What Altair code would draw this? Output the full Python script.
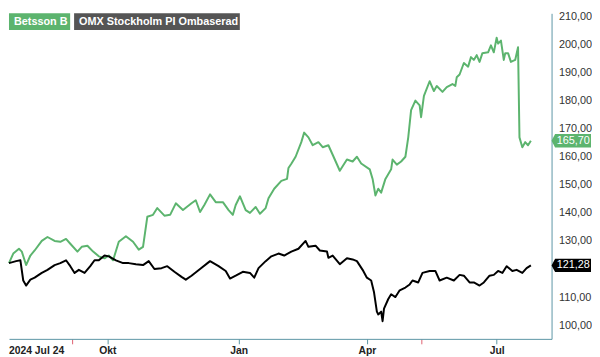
import altair as alt
import pandas as pd

START = "2024-07-24"
END = "2025-08-08T12:00:00"

# Betsson B: days since 2024-07-24, closing values (SEK)
betsson_days = [0, 3, 7, 9, 12, 15, 18, 23, 27, 32, 36, 40, 43, 48, 51, 55, 59, 63, 67, 70,
                73, 77, 82, 87, 91, 94, 97, 101, 104, 109, 113, 117, 122, 128, 131, 134, 137, 141, 145, 150,
                154, 157, 159, 162, 166, 169, 173, 176, 180, 182, 186, 191, 195, 196, 198, 201, 205, 207, 210, 213,
                217, 220, 224, 227, 232, 237, 241, 244, 247, 253, 255, 257, 259, 261, 264, 268, 269, 272, 275, 278,
                280, 282, 285, 288, 289, 291, 295, 298, 300, 304, 307, 311, 313, 314, 316, 319, 322, 324, 326, 328,
                330, 332, 336, 338, 340, 342, 343, 345, 347, 348, 350, 352, 355, 357, 358, 360, 362, 364, 366]
betsson_vals = [122.1, 125.5, 127.2, 126.2, 121.4, 124.8, 126.6, 130.0, 131.4, 130.0, 129.7, 130.7, 129.0, 126.2, 127.9, 128.3, 126.2, 124.5, 123.8, 124.8,
                123.1, 129.7, 131.7, 129.7, 126.9, 127.9, 138.6, 139.3, 141.7, 139.0, 139.3, 143.4, 141.0, 143.4, 144.5, 140.3, 142.8, 146.6, 143.8, 143.8,
                141.0, 139.3, 142.8, 145.9, 141.0, 140.0, 142.1, 139.7, 141.7, 145.2, 148.6, 151.4, 152.1, 156.0, 157.5, 160.0, 165.2, 168.6, 166.9, 164.1,
                165.2, 163.4, 164.1, 160.7, 155.0, 159.0, 158.3, 160.0, 157.6, 155.5, 152.1, 146.2, 148.6, 147.2, 152.1, 155.5, 159.0, 157.2, 158.3, 160.0,
                166.9, 176.6, 180.0, 178.3, 174.1, 181.7, 186.9, 183.4, 185.2, 183.1, 184.8, 185.9, 185.2, 188.3, 189.3, 193.4, 192.1, 195.5, 194.5, 196.2,
                193.8, 196.9, 197.2, 199.7, 197.2, 202.4, 200.3, 201.4, 194.5, 196.9, 196.9, 193.8, 194.5, 199.0, 166.9, 163.4, 165.2, 164.1, 165.7]

# OMX Stockholm PI (rebased)
omx_days = [0, 5, 8, 10, 12, 15, 18, 23, 27, 32, 36, 40, 43, 46, 49, 53, 57, 60, 63, 67,
            70, 75, 80, 84, 89, 94, 98, 102, 107, 111, 116, 121, 124, 128, 134, 141, 147, 152, 155, 159,
            164, 169, 172, 175, 180, 184, 189, 193, 198, 203, 208, 210, 215, 218, 223, 224, 227, 232, 237, 241,
            244, 248, 251, 254, 256, 258, 259, 261, 262, 263, 266, 268, 271, 274, 278, 281, 283, 287, 290, 295,
            299, 302, 307, 312, 316, 319, 323, 326, 330, 333, 337, 340, 343, 346, 349, 353, 356, 360, 363, 366]
omx_vals = [122.1, 122.8, 123.1, 115.9, 114.1, 116.2, 116.9, 118.6, 119.7, 121.4, 122.1, 123.1, 121.0, 118.6, 119.7, 118.6, 121.0, 123.1, 123.1, 124.8,
            124.5, 123.1, 122.1, 122.1, 121.7, 121.4, 122.8, 120.0, 120.3, 121.0, 119.0, 117.2, 116.2, 117.6, 120.0, 122.8, 121.0, 119.3, 116.6, 117.6,
            119.0, 118.6, 116.9, 120.3, 122.8, 124.5, 125.5, 124.8, 126.2, 127.2, 130.0, 127.9, 128.3, 126.6, 126.2, 124.0, 124.8, 121.7, 123.8, 123.4,
            122.8, 119.7, 116.9, 115.9, 111.7, 104.8, 103.8, 104.8, 101.4, 105.9, 109.3, 111.0, 110.0, 112.4, 113.4, 114.5, 115.9, 115.2, 118.6, 119.3,
            119.3, 115.9, 116.9, 115.9, 117.9, 117.6, 115.2, 115.2, 114.1, 115.2, 117.6, 117.9, 119.3, 118.6, 121.0, 119.3, 119.7, 118.6, 120.3, 121.28]

series_names = ["Betsson B", "OMX Stockholm PI Ombaserad"]
series_colors = ["#5cb46e", "#000000"]
legend_colors = ["#5cb46e", "#555555"]
last_labels = ["165,70", "121,28"]
last_values = [165.70, 121.28]

month_ticks = [alt.DateTime(year=2024, month=9, date=6), alt.DateTime(year=2024, month=10, date=1),
               alt.DateTime(year=2025, month=1, date=1), alt.DateTime(year=2025, month=4, date=1),
               alt.DateTime(year=2025, month=5, date=9), alt.DateTime(year=2025, month=7, date=1)]
# 120,00 is hidden behind the last-value tag in the reference
y_ticks = [100, 110, 130, 140, 150, 160, 170, 180, 190, 200, 210]

W, H = 550, 330
TEAL = "#5b95a5"


def frame(days, vals, name):
    return pd.DataFrame({
        "date": pd.Timestamp(START) + pd.to_timedelta(days, unit="D"),
        "value": vals,
        "series": name,
    })


lines_df = pd.concat([frame(betsson_days, betsson_vals, series_names[0]),
                      frame(omx_days, omx_vals, series_names[1])])
tags_df = pd.DataFrame({"series": series_names, "value": last_values, "label": last_labels})
start_df = pd.DataFrame({"date": [pd.Timestamp(START)], "label": ["2024 Jul 24"]})
legend_df = pd.DataFrame({"name": series_names})

x_scale = alt.Scale(domain=[START, END])
y_scale = alt.Scale(domain=[95.1, 211.1], nice=False, zero=False)
color_scale = alt.Scale(domain=series_names, range=series_colors)

month_expr = ("month(datum.value)==9 ? 'Okt' : month(datum.value)==0 ? 'Jan' : "
              "month(datum.value)==3 ? 'Apr' : month(datum.value)==6 ? 'Jul' : ''")

x_axis = alt.Axis(values=month_ticks, labelExpr=month_expr, grid=False,
                  domainColor=TEAL, tickSize=5,
                  tickColor={"condition": {"test": "month(datum.value)==8 || month(datum.value)==4",
                                           "value": "#e06070"}, "value": TEAL},
                  labelFontWeight="bold", labelFontSize=10.5, labelColor="#222222",
                  labelPadding=2, labelFlush=False, labelOverlap=False, title=None)
y_axis = alt.Axis(orient="right", values=y_ticks, ticks=False, grid=False,
                  labelExpr="replace(format(datum.value, '.2f'), '.', ',')",
                  domainColor=TEAL, labelColor="#333333", labelFontSize=11,
                  labelPadding=7, labelFlush=False, labelOverlap=False, title=None)

lines = alt.Chart(lines_df).mark_line(strokeWidth=2, strokeJoin="round").encode(
    x=alt.X("date:T", scale=x_scale, axis=x_axis),
    y=alt.Y("value:Q", scale=y_scale, axis=y_axis),
    color=alt.Color("series:N", scale=color_scale, legend=None),
    detail="series:N",
)

start_label = alt.Chart(start_df).mark_text(align="left", baseline="top", fontWeight="bold",
                                            fontSize=10.5, color="#222222").encode(
    x=alt.X("date:T", scale=x_scale, axis=x_axis),
    y=alt.value(H + 7),
    text="label:N",
)

tag_path = "M-1,0 L-0.82,-0.34 L1,-0.34 L1,0.34 L-0.82,0.34 Z"
tags = alt.Chart(tags_df).mark_point(shape=tag_path, filled=True, size=1600, opacity=1,
                                     strokeWidth=0).encode(
    x=alt.value(W + 20),
    y=alt.Y("value:Q", scale=y_scale, axis=y_axis),
    color=alt.Color("series:N", scale=color_scale, legend=None),
)
tag_text = alt.Chart(tags_df).mark_text(color="white", fontSize=11, align="center",
                                        baseline="middle").encode(
    x=alt.value(W + 22),
    y=alt.Y("value:Q", scale=y_scale, axis=y_axis),
    text="label:N",
)

leg_box1 = alt.Chart(legend_df.iloc[[0]]).mark_rect(color=legend_colors[0]).encode(
    x=alt.value(0), x2=alt.value(62), y=alt.value(0), y2=alt.value(17))
leg_box2 = alt.Chart(legend_df.iloc[[1]]).mark_rect(color=legend_colors[1]).encode(
    x=alt.value(66), x2=alt.value(234), y=alt.value(0), y2=alt.value(17))
leg_txt1 = alt.Chart(legend_df.iloc[[0]]).mark_text(color="white", fontWeight="bold", fontSize=11,
                                                   align="left", baseline="middle").encode(
    x=alt.value(5), y=alt.value(9), text="name:N")
leg_txt2 = alt.Chart(legend_df.iloc[[1]]).mark_text(color="white", fontWeight="bold", fontSize=11,
                                                   align="left", baseline="middle").encode(
    x=alt.value(71), y=alt.value(9), text="name:N")

chart = alt.layer(lines, start_label, tags, tag_text, leg_box1, leg_box2, leg_txt1, leg_txt2).properties(
    width=W, height=H, padding=0,
).configure(font="Liberation Sans").configure_view(stroke=None)

chart.save("out.html", embed_options={"renderer": "svg", "actions": False})
